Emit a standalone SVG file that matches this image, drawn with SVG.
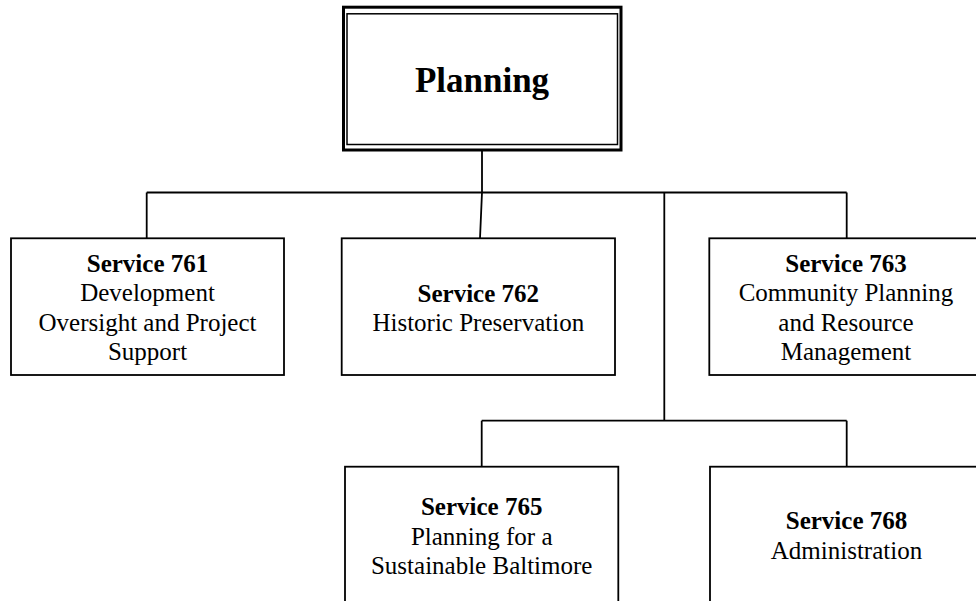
<svg xmlns="http://www.w3.org/2000/svg" width="976" height="601" viewBox="0 0 976 601" font-family="'Liberation Serif', 'Times New Roman', 'DejaVu Serif', serif">
<style>
.box{fill:#fff;stroke:#000;stroke-width:1.8}
.ln{fill:none;stroke:#000;stroke-width:1.8}
.t{font-family:'Liberation Serif','Times New Roman','DejaVu Serif',serif;font-size:25px;fill:#000;text-anchor:middle}
.b{font-weight:bold}
.big{font-size:35px}
</style>
<rect width="976" height="601" fill="#fff"/>
<g id="connectors">
<polyline class="ln" points="482,150 482,192.5 480,238.3"/>
<line class="ln" x1="146.7" y1="192.5" x2="846.7" y2="192.5"/>
<line class="ln" x1="146.7" y1="192.5" x2="146.7" y2="238.3"/>
<line class="ln" x1="846.7" y1="192.5" x2="846.7" y2="238.3"/>
<line class="ln" x1="664.3" y1="192.5" x2="664.3" y2="420.7"/>
<line class="ln" x1="481.7" y1="420.7" x2="846.7" y2="420.7"/>
<line class="ln" x1="481.7" y1="420.7" x2="481.7" y2="466.7"/>
<line class="ln" x1="846.7" y1="420.7" x2="846.7" y2="466.7"/>
</g>
<g id="planning">
<rect x="343.5" y="7.2" width="277.5" height="142.8" fill="#fff" stroke="#000" stroke-width="3"/>
<rect x="347" y="13.8" width="270.5" height="130.7" fill="none" stroke="#000" stroke-width="1.5"/>
<text class="t b big" x="482" y="91.5">Planning</text>
</g>
<g id="s761">
<rect class="box" x="11" y="238.3" width="273" height="136.7"/>
<text class="t b" x="147.5" y="271.5">Service 761</text>
<text class="t" x="147.5" y="301">Development</text>
<text class="t" x="147.5" y="330.5">Oversight and Project</text>
<text class="t" x="147.5" y="360">Support</text>
</g>
<g id="s762">
<rect class="box" x="341.7" y="238.3" width="273.3" height="136.7"/>
<text class="t b" x="478.3" y="301.5">Service 762</text>
<text class="t" x="478.3" y="331">Historic Preservation</text>
</g>
<g id="s763">
<rect class="box" x="709.3" y="238.3" width="274" height="136.7"/>
<text class="t b" x="846" y="271.5">Service 763</text>
<text class="t" x="846" y="301">Community Planning</text>
<text class="t" x="846" y="330.5">and Resource</text>
<text class="t" x="846" y="360">Management</text>
</g>
<g id="s765">
<rect class="box" x="345" y="466.7" width="273.3" height="150"/>
<text class="t b" x="481.7" y="515">Service 765</text>
<text class="t" x="481.7" y="544.5">Planning for a</text>
<text class="t" x="481.7" y="574">Sustainable Baltimore</text>
</g>
<g id="s768">
<rect class="box" x="710" y="466.7" width="273" height="150"/>
<text class="t b" x="846.5" y="529.3">Service 768</text>
<text class="t" x="846.5" y="558.8">Administration</text>
</g>
</svg>
